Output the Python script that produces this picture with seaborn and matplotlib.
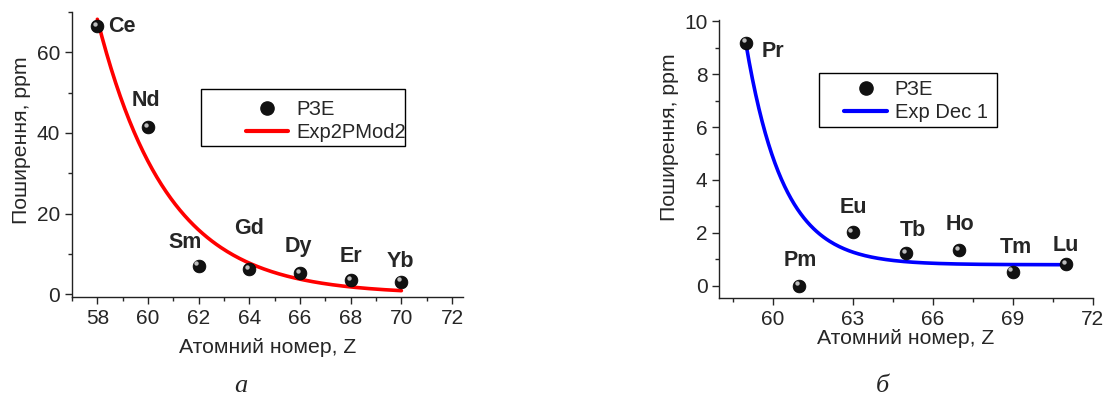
import numpy as np
import pandas as pd
import matplotlib.pyplot as plt
import seaborn as sns
from matplotlib.ticker import MultipleLocator
from matplotlib.patches import Rectangle
from matplotlib.transforms import offset_copy

sns.set_style('ticks')
plt.rcParams['font.family'] = ['Liberation Sans', 'DejaVu Sans']

# ---- дані: панель а
elems_a = ['Ce', 'Nd', 'Sm', 'Gd', 'Dy', 'Er', 'Yb']
z_a = [58, 60, 62, 64, 66, 68, 70]
ppm_a = [66.5, 41.4, 7.1, 6.3, 5.2, 3.5, 3.1]
# параметри підгонки Exp2PMod2 (y = A*exp(-(x-x0)/t))
fit_a_A, fit_a_x0, fit_a_t = 68.2, 58.0, 2.75

# ---- дані: панель б
elems_b = ['Pr', 'Pm', 'Eu', 'Tb', 'Ho', 'Tm', 'Lu']
z_b = [59, 61, 63, 65, 67, 69, 71]
ppm_b = [9.2, 0.0, 2.02, 1.23, 1.33, 0.53, 0.81]
# параметри підгонки Exp Dec 1 (y = y0 + A*exp(-(x-x0)/t))
fit_b_y0, fit_b_A, fit_b_x0, fit_b_t = 0.79, 8.35, 59.0, 1.4

# зміщення підписів (пікселі)
offs_a = [(11, 0), (-2, 27), (-14, 23), (0, 40), (-2, 27), (0, 24), (-1, 20)]
offs_b = [(16, -9), (1, 25), (1, 25), (7, 23), (1, 26), (3, 24), (0, 19)]


def draw_panel(ax, z, ppm, elems, offs, fit_x, fit_y, color, fit_label):
    df = pd.DataFrame({'z': z, 'ppm': ppm})
    fdf = pd.DataFrame({'z': fit_x, 'ppm': fit_y})
    sns.lineplot(data=fdf, x='z', y='ppm', ax=ax, color=color, lw=2.6,
                 label=fit_label, zorder=2, legend=False)
    sns.scatterplot(data=df, x='z', y='ppm', ax=ax, color='#111111', s=85,
                    edgecolor='black', linewidth=0.5, zorder=3, legend=False)
    # відблиск на кульках
    hl = offset_copy(ax.transData, fig=ax.figure, x=-1.6, y=1.6, units='points')
    ax.scatter(df['z'], df['ppm'], s=10, color='#bdbdbd', zorder=4,
               linewidths=0, transform=hl)
    for zz, yy, el, (dx, dy) in zip(z, ppm, elems, offs):
        ax.annotate(el, (zz, yy), xytext=(dx * 0.72, dy * 0.72),
                    textcoords='offset points', ha='left' if dx > 10 else 'center',
                    va='center', fontsize=15.5, fontweight='bold')
    for s in ['top', 'right']:
        ax.spines[s].set_visible(False)
    for s in ['left', 'bottom']:
        ax.spines[s].set_linewidth(1.0)
        ax.spines[s].set_color('#222222')
    ax.tick_params(which='major', length=5, width=1, labelsize=15, direction='out')
    ax.tick_params(which='minor', length=3, width=1, direction='out')
    ax.set_xlabel('Атомний номер, Z', fontsize=15.3)
    ax.set_ylabel('Поширення, ppm', fontsize=15.3)


def draw_legend(ax, color, fit_label, anchor, rect):
    dot = plt.Line2D([], [], ls='none', marker='o', color='#111111', markersize=9.5)
    ln = plt.Line2D([], [], color=color, lw=3)
    ax.legend([dot, ln], ['РЗЕ', fit_label], loc='upper left', bbox_to_anchor=anchor,
              frameon=False, fontsize=14.5, handlelength=2.1, handletextpad=0.4,
              labelspacing=0.2, borderpad=0, borderaxespad=0)
    ax.add_patch(Rectangle(rect[:2], rect[2], rect[3], transform=ax.transAxes,
                           fill=False, edgecolor='black', lw=1.0, zorder=5))


fig = plt.figure(figsize=(11.06, 3.98), dpi=100)
ax1 = fig.add_axes([0.0651, 0.2538, 0.3535, 0.716])
ax2 = fig.add_axes([0.6504, 0.2505, 0.3376, 0.699])

xa = np.linspace(58, 70, 200)
ya = fit_a_A * np.exp(-(xa - fit_a_x0) / fit_a_t)
draw_panel(ax1, z_a, ppm_a, elems_a, offs_a, xa, ya, 'red', 'Exp2PMod2')
ax1.set_xlim(57.0, 72.43)
ax1.set_ylim(-0.7, 70)
ax1.xaxis.set_major_locator(MultipleLocator(2))
ax1.xaxis.set_minor_locator(MultipleLocator(1))
ax1.yaxis.set_major_locator(MultipleLocator(20))
ax1.yaxis.set_minor_locator(MultipleLocator(10))
draw_legend(ax1, 'red', 'Exp2PMod2', (0.445, 0.69), (0.33, 0.53, 0.522, 0.2))
ax1.xaxis.set_label_coords(0.5, -0.145)
ax1.yaxis.set_label_coords(-0.105, 0.55)

xb = np.linspace(59, 71, 200)
yb = fit_b_y0 + fit_b_A * np.exp(-(xb - fit_b_x0) / fit_b_t)
draw_panel(ax2, z_b, ppm_b, elems_b, offs_b, xb, yb, 'blue', 'Exp Dec 1')
ax2.set_xlim(58.0, 72.0)
ax2.set_ylim(-0.48, 10.05)
ax2.xaxis.set_major_locator(MultipleLocator(3))
ax2.xaxis.set_minor_locator(MultipleLocator(1.5))
ax2.yaxis.set_major_locator(MultipleLocator(2))
ax2.yaxis.set_minor_locator(MultipleLocator(1))
draw_legend(ax2, 'blue', 'Exp Dec 1', (0.335, 0.785), (0.267, 0.6155, 0.477, 0.194))
ax2.xaxis.set_label_coords(0.5, -0.11)
ax2.yaxis.set_label_coords(-0.108, 0.58)

fig.text(0.218, 0.015, 'а', fontsize=19, style='italic', family='Liberation Serif',
         ha='center', va='baseline')
fig.text(0.798, 0.015, 'б', fontsize=19, style='italic', family='Liberation Serif',
         ha='center', va='baseline')

fig.savefig('out.png', dpi=100)
